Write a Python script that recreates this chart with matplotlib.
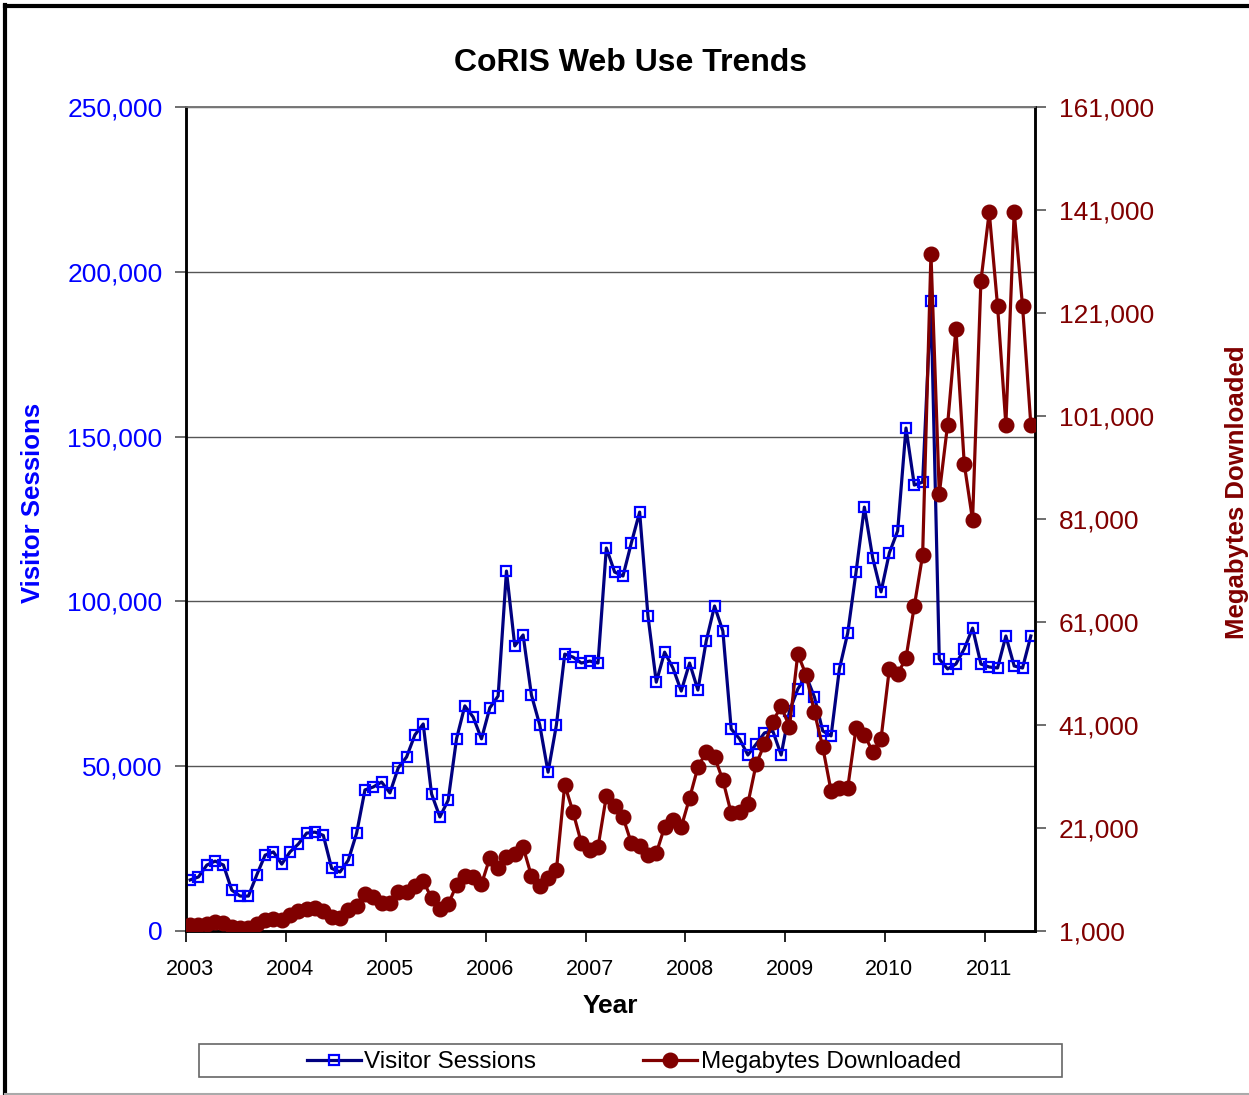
import matplotlib
matplotlib.use("Agg")
import matplotlib.pyplot as plt
from matplotlib.ticker import FuncFormatter
from matplotlib.lines import Line2D
from matplotlib.patches import Rectangle
import numpy as np

plt.rcParams['font.family'] = ['Liberation Sans', 'DejaVu Sans']

start_year = 2003
visitor_sessions = [
    15500, 16400, 20000, 21200, 20000, 12400, 10600, 10600, 17000, 23000, 24000, 20300,
    24000, 26400, 29700, 30000, 29000, 19000, 17900, 21500, 29700, 42800, 43700, 45200,
    41900, 49500, 52800, 59500, 62800, 41600, 34600, 39700, 58300, 68300, 64900, 58300,
    67700, 71300, 109200, 86500, 89800, 71600, 62500, 48200, 62500, 84000, 83100, 81300,
    81900, 81300, 116200, 108900, 107700, 117700, 127100, 95600, 75500, 84600, 79800, 72800,
    81300, 73100, 88000, 98600, 91000, 61300, 58300, 53400, 56700, 60100, 60700, 53400,
    66700, 73400, 77400, 71000, 60700, 59200, 79500, 90400, 108900, 128600, 113200, 102900,
    114700, 121400, 152600, 135300, 136200, 191200, 82500, 79500, 81000, 85600, 91900, 81000,
    80100, 79800, 89500, 80400, 79800, 89500,
]
megabytes_downloaded = [
    2200, 2200, 2400, 2700, 2600, 1800, 1600, 1600, 2400, 3100, 3300, 3100,
    4100, 4900, 5300, 5500, 4900, 3700, 3500, 5100, 5900, 8200, 7600, 6400,
    6400, 8600, 8600, 9700, 10700, 7400, 5300, 6200, 9900, 11700, 11500, 10100,
    15200, 13200, 15400, 16000, 17300, 11700, 9700, 11300, 12800, 29400, 24100, 18100,
    16700, 17300, 27200, 25300, 23100, 18100, 17500, 15800, 16100, 21200, 22600, 21200,
    26800, 32800, 35800, 34800, 30300, 23900, 24100, 25700, 33400, 37300, 41600, 44700,
    40600, 54800, 50700, 43500, 36700, 28200, 28800, 28800, 40400, 39100, 35800, 38300,
    51900, 50900, 54000, 64100, 74000, 132500, 85900, 99300, 117900, 91700, 80800, 127200,
    140600, 122400, 99300, 140600, 122400, 99300,
]
years = list(range(2003, 2012))
left_ticks = [0, 50000, 100000, 150000, 200000, 250000]
right_ticks = [1000, 21000, 41000, 61000, 81000, 101000, 121000, 141000, 161000]

n = len(visitor_sessions)
x = np.arange(n)  # category axis: one category per month

W, H = 1249, 1095
fig = plt.figure(figsize=(W / 100, H / 100), dpi=100)
ax = fig.add_axes([186 / W, 1 - 931 / H, (1035 - 186) / W, (931 - 107) / H])
ax2 = ax.twinx()

blue_line = '#000080'
blue_mark = '#0000FF'
red = '#800000'

ax.plot(x, visitor_sessions, color=blue_line, lw=2.3, marker='s', ms=6.5,
        mfc='none', mec=blue_mark, mew=1.6, zorder=3)
ax2.plot(x, megabytes_downloaded, color=red, lw=2.3, marker='o', ms=10.5,
         mfc=red, mec=red, zorder=3)

ax.set_xlim(-0.5, n - 0.5)
ax.set_ylim(0, 250000)
ax2.set_ylim(1000, 161000)

year_pos = [12 * (y - start_year) for y in years]
ax.set_xticks([p - 0.5 for p in year_pos])
ax.set_xticklabels([])
ax.set_xticks(year_pos, minor=True)
ax.set_xticklabels([str(y) for y in years], minor=True)
ax.tick_params(axis='x', which='minor', length=0, labelsize=15.5, pad=20, labelcolor='black')
ax.tick_params(axis='x', which='major', direction='out', length=8, width=1.2, color='black')

ax.set_yticks(left_ticks)
ax.yaxis.set_major_formatter(FuncFormatter(lambda v, p: f"{int(v):,}"))
ax2.set_yticks(right_ticks)
ax2.yaxis.set_major_formatter(FuncFormatter(lambda v, p: f"{int(v):,}"))

ax.grid(axis='y', color='#555555', lw=1.0)
ax.set_axisbelow(True)

for a in (ax, ax2):
    for s in a.spines.values():
        s.set_linewidth(1.8)
        s.set_color('black')
    a.spines['top'].set_color('#777777')
    a.spines['top'].set_linewidth(1.2)

ax.tick_params(axis='y', direction='out', length=8, width=1.2, color='#555555',
               labelsize=19, labelcolor='#0000FF', pad=9)
ax2.tick_params(axis='y', direction='out', length=8, width=1.2, color='#555555',
                labelsize=19, labelcolor=red, pad=9)

fig.text(630 / W, 1 - 63 / H, 'CoRIS Web Use Trends', fontsize=23, fontweight='bold',
         ha='center', va='center')
ax.set_xlabel('Year', fontsize=19, fontweight='bold')
ax.xaxis.set_label_coords(0.5, 1 - (1006 - 107) / (931 - 107), transform=ax.transAxes)
ax.xaxis.label.set_va('center')
ax.set_ylabel('Visitor Sessions', fontsize=18.5, fontweight='bold', color='#0000FF')
ax.yaxis.set_label_coords((33 - 186) / (1035 - 186), (931 - 503) / (931 - 107))
ax.yaxis.label.set_va('center')
ax2.set_ylabel('Megabytes Downloaded', fontsize=18.5, fontweight='bold', color=red)
ax2.yaxis.set_label_coords((1237 - 186) / (1035 - 186), (931 - 492) / (931 - 107))
ax2.yaxis.label.set_va('center')

handles = [
    Line2D([], [], color=blue_line, lw=2.3, marker='s', ms=6.5, mfc='none', mec=blue_mark, mew=1.6),
    Line2D([], [], color=red, lw=2.3, marker='o', ms=10.5, mfc=red, mec=red),
]
leg = fig.legend(handles, ['Visitor Sessions', 'Megabytes Downloaded'],
                 loc='center', bbox_to_anchor=(634 / W, 1 - 1062 / H),
                 ncol=2, fontsize=17.5, frameon=False,
                 handlelength=2.2, handletextpad=0.15, columnspacing=4.4, borderpad=0.0)
fig.add_artist(Rectangle((199 / W, 1 - 1077 / H), (1062 - 199) / W, (1077 - 1044) / H,
                         transform=fig.transFigure, fill=False, edgecolor='#666666', lw=1.2))

# outer frame (left and top black, bottom gray)
fig.add_artist(Line2D([5 / W, 5 / W], [0, 1 - 5 / H], transform=fig.transFigure, color='black', lw=3))
fig.add_artist(Line2D([5 / W, 1], [1 - 6 / H, 1 - 6 / H], transform=fig.transFigure, color='black', lw=3))
fig.add_artist(Line2D([5 / W, 1], [1.5 / H, 1.5 / H], transform=fig.transFigure, color='#aaaaaa', lw=1.5))

fig.savefig('out.png', dpi=100)
